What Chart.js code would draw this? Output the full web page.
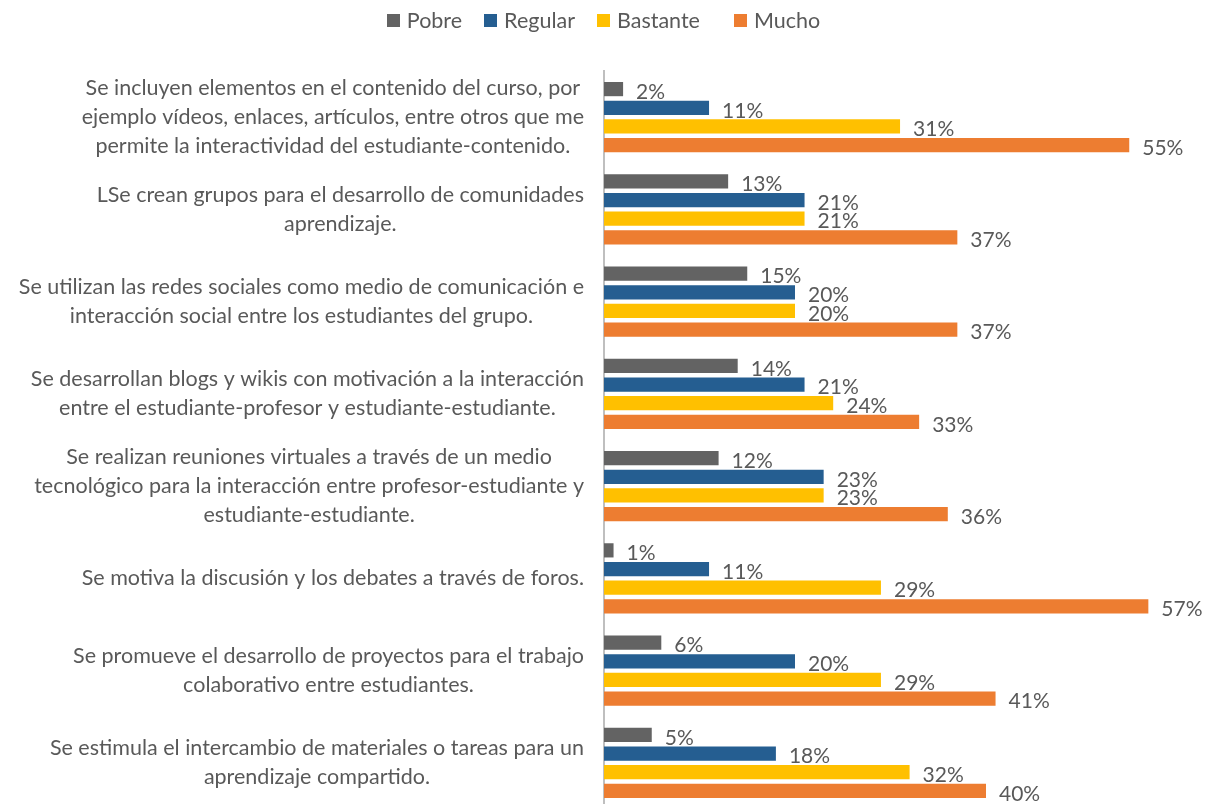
<!DOCTYPE html>
<html>
<head>
<meta charset="utf-8">
<script src="https://cdn.jsdelivr.net/npm/chart.js@4/dist/chart.umd.min.js"></script>
<style>
  html, body { margin: 0; padding: 0; background: #fff; overflow: hidden; }
  #wrap { position: relative; width: 1207px; height: 812px; }
  #legend { position: absolute; top: 6px; left: 0; width: 1207px; display: flex; justify-content: center;
            font-family: Lato, "Open Sans", sans-serif; font-size: 21.5px; line-height: 28px; color: #595959; }
  .item { display: flex; align-items: center; margin: 0 11px; }
  .box { width: 13px; height: 13px; margin-right: 7px; }
</style>
</head>
<body>
<div id="wrap">
  <div id="legend"></div>
  <canvas id="c" width="1207" height="812"></canvas>
</div>
<script>
const categories = [
  ["Se incluyen elementos en el contenido del curso, por", "ejemplo vídeos, enlaces, artículos, entre otros que me", "permite la interactividad del estudiante-contenido."],
  ["LSe crean grupos para el desarrollo de comunidades", "aprendizaje."],
  ["Se utilizan las redes sociales como medio de comunicación e", "interacción social entre los estudiantes del grupo."],
  ["Se desarrollan blogs y wikis con motivación a la interacción", "entre el estudiante-profesor y estudiante-estudiante."],
  ["Se realizan reuniones virtuales a través de un medio", "tecnológico para la interacción entre profesor-estudiante y", "estudiante-estudiante."],
  ["Se motiva la discusión y los debates a través de foros."],
  ["Se promueve el desarrollo de proyectos para el trabajo", "colaborativo entre estudiantes."],
  ["Se estimula el intercambio de materiales o tareas para un", "aprendizaje compartido."]
];
const seriesNames = ["Pobre", "Regular", "Bastante", "Mucho"];
const pobre    = [2, 13, 15, 14, 12, 1, 6, 5];
const regular  = [11, 21, 20, 21, 23, 11, 20, 18];
const bastante = [31, 21, 20, 24, 23, 29, 29, 32];
const mucho    = [55, 37, 37, 33, 36, 57, 41, 40];
const colors = ["#636363", "#255E91", "#FFC000", "#ED7D31"];

const FONT = 'Lato, "Open Sans", sans-serif';
const TEXT = '#595959';

// HTML legend
const legend = document.getElementById('legend');
seriesNames.forEach((n, i) => {
  const it = document.createElement('div');
  it.className = 'item';
  if (i === 3) it.style.marginLeft = '23px';
  const b = document.createElement('div');
  b.className = 'box';
  b.style.background = colors[i];
  const t = document.createElement('span');
  t.textContent = n;
  it.appendChild(b); it.appendChild(t);
  legend.appendChild(it);
});

const labelPlugin = {
  id: 'labels',
  afterDatasetsDraw(chart) {
    const ctx = chart.ctx;
    ctx.save();
    ctx.font = '21px ' + FONT;
    ctx.fillStyle = TEXT;
    ctx.textBaseline = 'middle';
    ctx.textAlign = 'left';
    chart.data.datasets.forEach((ds, di) => {
      chart.getDatasetMeta(di).data.forEach((bar, i) => {
        ctx.fillText(ds.data[i] + '%', bar.x + 13, bar.y + 3);
      });
    });
    // category labels
    ctx.font = '21.5px ' + FONT;
    const y = chart.scales.y;
    const lh = 29;
    const right = 584;
    ctx.textAlign = 'center';
    categories.forEach((lines, i) => {
      const cy = y.getPixelForValue(i);
      const w = Math.max(...lines.map(l => ctx.measureText(l).width));
      const cx = right - w / 2;
      lines.forEach((l, k) => {
        ctx.fillText(l, cx, cy + (k - (lines.length - 1) / 2) * lh);
      });
    });
    ctx.restore();
  }
};

new Chart(document.getElementById('c'), {
  type: 'bar',
  data: {
    labels: categories.map(c => c.join(' ')),
    datasets: [
      { label: seriesNames[0], data: pobre, backgroundColor: colors[0] },
      { label: seriesNames[1], data: regular, backgroundColor: colors[1] },
      { label: seriesNames[2], data: bastante, backgroundColor: colors[2] },
      { label: seriesNames[3], data: mucho, backgroundColor: colors[3] }
    ]
  },
  options: {
    indexAxis: 'y',
    responsive: false,
    animation: false,
    events: [],
    categoryPercentage: 0.81,
    barPercentage: 0.76,
    layout: { padding: { left: 604, right: 30, top: 71, bottom: 3 } },
    plugins: { legend: { display: false }, tooltip: { enabled: false } },
    scales: {
      x: { display: false, min: 0, max: 60 },
      y: {
        ticks: { display: false },
        grid: { display: false },
        border: { display: true, color: '#BFBFBF', width: 2 },
        afterFit(s) { s.width = 0; }
      }
    }
  },
  plugins: [labelPlugin]
});
</script>
</body>
</html>
